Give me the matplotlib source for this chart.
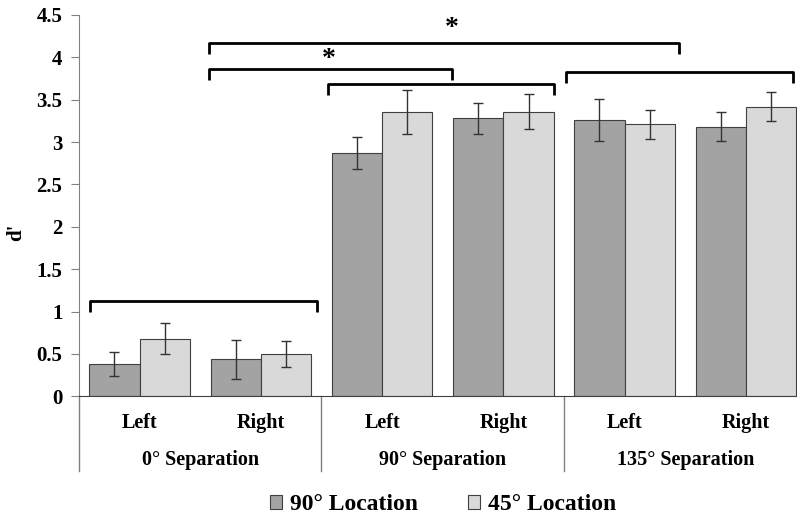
import numpy as np
from matplotlib import pyplot as plt

plt.rcParams['font.family'] = ['Liberation Serif', 'DejaVu Serif']
plt.rcParams['font.weight'] = 'bold'

# data
sides = ['Left', 'Right', 'Left', 'Right', 'Left', 'Right']
groups = ['0° Separation', '90° Separation', '135° Separation']
series = ['90° Location', '45° Location']
loc90 = [0.38, 0.44, 2.87, 3.28, 3.26, 3.18]
loc90_err = [0.14, 0.23, 0.19, 0.18, 0.25, 0.17]
loc45 = [0.68, 0.50, 3.35, 3.36, 3.21, 3.42]
loc45_err = [0.18, 0.155, 0.26, 0.21, 0.17, 0.175]

# significance brackets: (x0, x1, y, star)
brackets = [
    (0.57, 4.45, 4.17, True),
    (0.57, 2.58, 3.86, True),
    (1.55, 3.42, 3.68, False),
    (3.52, 5.39, 3.83, False),
    (-0.41, 1.46, 1.13, False),
]

fig = plt.figure(figsize=(7.97, 5.19), dpi=100)
ax = fig.add_axes([0.0991, 0.2364, 0.9009, 0.7347])

x = np.arange(len(sides))
w = 0.415
ekw = dict(ecolor='#333333', elinewidth=1.0, capsize=3.5, capthick=1.0)
ax.bar(x - w / 2, loc90, w, yerr=loc90_err, color='#a3a3a3',
       edgecolor='#404040', linewidth=0.8, label=series[0], error_kw=ekw)
ax.bar(x + w / 2, loc45, w, yerr=loc45_err, color='#d9d9d9',
       edgecolor='#404040', linewidth=0.8, label=series[1], error_kw=ekw)

ax.set_xlim(-0.5, 5.422)
ax.set_ylim(0, 4.5)
ax.set_yticks(np.arange(0, 4.51, 0.5))
ax.set_yticklabels(['0', '0.5', '1', '1.5', '2', '2.5', '3', '3.5', '4', '4.5'])
ax.tick_params(axis='y', length=6, color='#808080', labelsize=15, pad=6)
ax.set_xticks([])
for s in ['top', 'right']:
    ax.spines[s].set_visible(False)
ax.spines['left'].set_color('#808080')
ax.spines['bottom'].set_color('#404040')
ax.set_ylabel("d'", fontsize=15, fontweight='bold')
ax.yaxis.set_label_coords(-0.074, 0.43)

# category axis below the bars
for xs in [-0.5, 1.5, 3.5]:
    ax.plot([xs, xs], [0, -0.878], color='#808080', lw=1, clip_on=False)
for i, s in enumerate(sides):
    ax.text(i, -0.315, s, ha='center', va='center', fontsize=14.5, fontweight='bold')
for i, g in enumerate(groups):
    ax.text(2 * i + 0.5, -0.75, g, ha='center', va='center', fontsize=14.5, fontweight='bold')

# brackets
for x0, x1, y, star in brackets:
    ax.plot([x0, x0, x1, x1], [y - 0.13, y, y, y - 0.13], color='black', lw=2,
            clip_on=False, solid_joinstyle='round', solid_capstyle='butt')
ax.text(2.575, 4.34, '*', ha='center', va='center', fontsize=20, fontweight='bold')
ax.text(1.558, 3.98, '*', ha='center', va='center', fontsize=20, fontweight='bold')

fig.legend(loc='center', bbox_to_anchor=(0.556, 0.027), ncol=2, frameon=False,
           fontsize=17, handlelength=0.5, handleheight=0.5, handletextpad=0.35,
           columnspacing=2.1)

fig.savefig('out.png', dpi=100)
